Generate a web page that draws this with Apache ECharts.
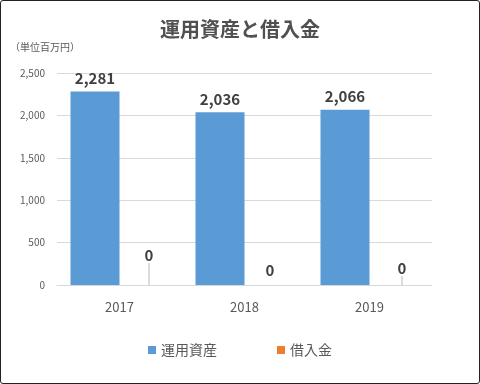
<!DOCTYPE html>
<html><head><meta charset="utf-8">
<script src="https://cdn.jsdelivr.net/npm/echarts@6/dist/echarts.min.js"></script>
<style>
html,body{margin:0;padding:0;background:#fff;}
#frame{position:absolute;left:0;top:0;width:478px;height:382px;border:1px solid #222;border-radius:3px;}
#c{position:absolute;left:0;top:0;width:480px;height:384px;}
</style></head>
<body><div id="c"></div><div id="frame"></div>
<script>
const categories = ['2017', '2018', '2019'];
const assets = [2281, 2036, 2066];
const loans = [0, 0, 0];
const yTicks = [0, 500, 1000, 1500, 2000, 2500];

const font = '"Noto Sans CJK JP", "Noto Sans", sans-serif';
const loanLabelShift = [[5, -20], [1, -5], [8, -7]];
const loanLeader = [true, false, true];
const chart = echarts.init(document.getElementById('c'));
chart.setOption({
  animation: false,
  title: {
    text: '運用資産と借入金', left: 'center', top: 14,
    textStyle: {fontFamily: font, fontSize: 20, fontWeight: 'bold', color: '#505050'}
  },
  graphic: [{type: 'text', left: 10, top: 42, style: {text: '（単位百万円）', fontFamily: font, fontSize: 10, fill: '#595959'}}],
  legend: {
    bottom: 22, left: 'center', itemGap: 60, itemWidth: 8, itemHeight: 8, icon: 'rect',
    textStyle: {fontFamily: font, fontSize: 14, color: '#595959'},
    data: ['運用資産', '借入金']
  },
  grid: {left: 57, right: 48, top: 73, bottom: 99},
  xAxis: {
    type: 'category', data: categories,
    axisLine: {lineStyle: {color: '#d9d9d9'}}, axisTick: {show: false},
    axisLabel: {fontFamily: font, fontSize: 13, color: '#595959', margin: 16}
  },
  yAxis: {
    type: 'value', min: yTicks[0], max: yTicks[yTicks.length - 1], interval: 500,
    axisLine: {show: false}, axisTick: {show: false},
    splitLine: {lineStyle: {color: '#d9d9d9'}},
    axisLabel: {fontFamily: font, fontSize: 10, color: '#595959', margin: 12,
      formatter: v => v.toLocaleString('en-US')}
  },
  series: [
    {
      name: '運用資産', type: 'bar', data: assets, barWidth: 49, barGap: '0%',
      itemStyle: {color: '#5B9BD5'},
      label: {show: true, position: 'top', distance: 6, fontFamily: font, fontSize: 15, fontWeight: 'bold', color: '#404040',
        formatter: p => p.value.toLocaleString('en-US')}
    },
    {
      name: '借入金', type: 'bar', barWidth: 49,
      data: loans.map((v, i) => ({value: v, labelLine: {show: loanLeader[i]}})),
      itemStyle: {color: '#ED7D31'},
      label: {show: true, position: 'top', distance: 2, fontFamily: font, fontSize: 15, fontWeight: 'bold', color: '#404040'},
      labelLayout: p => ({dx: loanLabelShift[p.dataIndex][0], dy: loanLabelShift[p.dataIndex][1]}),
      labelLine: {show: true, lineStyle: {color: '#a6a6a6', width: 0.8}}
    }
  ]
});
</script></body></html>
